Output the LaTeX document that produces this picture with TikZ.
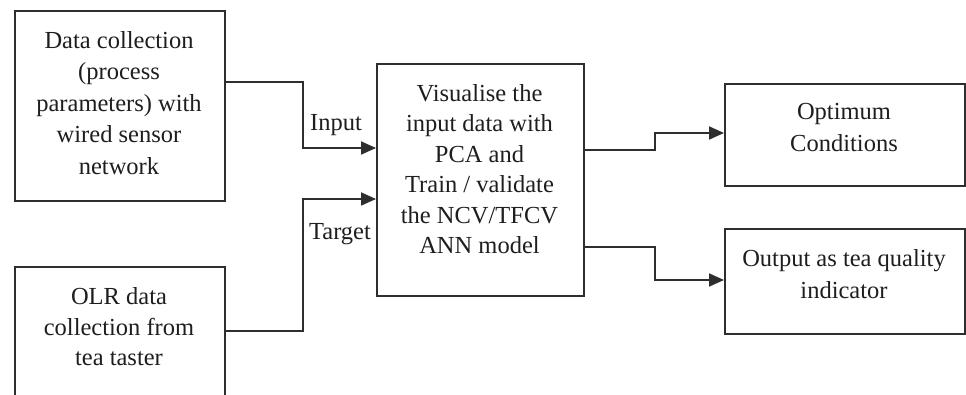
\documentclass[tikz,border=0pt]{standalone}
\usepackage{fontspec}
\setmainfont{Liberation Serif}
\usetikzlibrary{arrows.meta,calc}
\definecolor{ink}{HTML}{2E2E2E}
\definecolor{txt}{HTML}{1E1E1E}
\begin{document}
\begin{tikzpicture}[x=1pt,y=-1pt,
  box/.style={draw=ink, line width=1.8pt, rectangle, inner sep=0pt},
  lbl/.style={font=\fontsize{24.5}{30.5}\selectfont, text=txt, inner sep=0pt, align=center},
  lblw/.style={font=\fontsize{24.5}{31.5}\selectfont, text=txt, inner sep=0pt, align=center},
  conn/.style={draw=ink, line width=1.8pt},
  arr/.style={conn, -{Triangle[length=15pt,width=13pt]}}]
\clip (0,0) rectangle (966,395);
\fill[white] (0,0) rectangle (966,395);
% boxes
\node[box, minimum width=210pt, minimum height=190pt, anchor=north west] (dc) at (14,10) {};
\node[lblw] (dctxt) at (119,103) {Data collection\\(process\\parameters) with\\wired sensor\\network};
\node[box, minimum width=210pt, minimum height=160pt, anchor=north west] (olr) at (14,266) {};
\node[lbl] (olrtxt) at (119,327) {OLR data\\collection from\\tea taster};
\node[box, minimum width=207pt, minimum height=232pt, anchor=north west] (viz) at (376,63) {};
\node[lbl] (viztxt) at (479.5,169) {Visualise the\\input data with\\PCA and\\Train / validate\\the NCV/TFCV\\ANN model};
\node[box, minimum width=240pt, minimum height=102pt, anchor=north west] (opt) at (724,83) {};
\node[lblw] (opttxt) at (844,127.5) {Optimum\\Conditions};
\node[box, minimum width=240pt, minimum height=105pt, anchor=north west] (out) at (724,228) {};
\node[lblw] (outtxt) at (844,274) {Output as tea quality\\indicator};
% connectors
\draw[arr] ($(dc.north east)+(0,72)$) -- ++(77,0) |- ($(viz.north west)+(0,85)$);
\draw[arr] ($(olr.north east)+(0,65)$) -- ++(77,0) |- ($(viz.north west)+(0,136)$);
\draw[arr] ($(viz.north east)+(0,87)$) -- ++(70,0) |- ($(opt.north west)+(0,50)$);
\draw[arr] ($(viz.north east)+(0,184)$) -- ++(70,0) |- ($(out.north west)+(0,52)$);
% labels
\node[lbl] (inlbl) at (336,125) {Input};
\node[lbl] (tglbl) at (340,234) {Target};
\end{tikzpicture}
\end{document}
